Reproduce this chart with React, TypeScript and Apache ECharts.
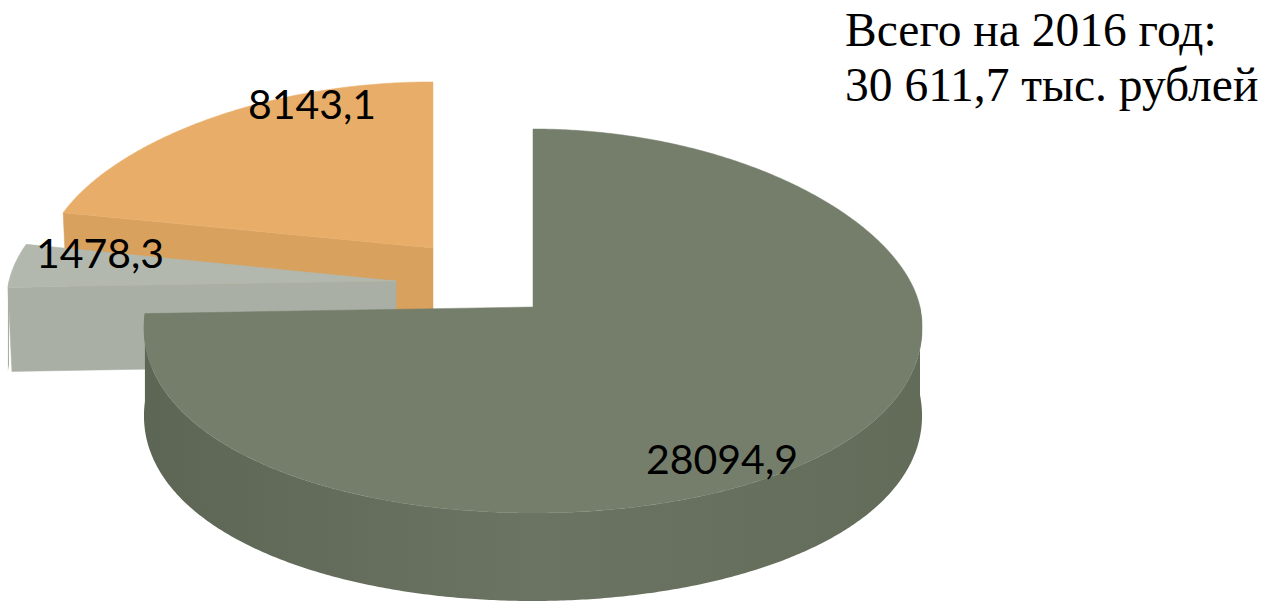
import React, { useEffect, useRef } from "react";
import * as echarts from "echarts";

// ---- data ----
const categories = ["Сегмент 1", "Сегмент 2", "Сегмент 3"];
const values = [28094.9, 1478.3, 8143.1];
const titleLines = ["Всего на 2016 год:", "30 611,7 тыс. рублей"];

// ---- styles (not data) ----
const sliceTop = ["#747E6B", "#B2B8AE", "#E8AE69"];
const sliceWall = ["#6B7462", "#A9AFA4", "#D9A15E"];
const sliceWallLeft = ["#5D6554", "#A4AA9F", "#D29A59"];
const sliceWallRight = ["#636B59", "#A4AA9F", "#D29A59"];
const sliceOffsets = [
  [0, 0],
  [-137, -26],
  [-100, -59],
];
const sliceRyScale = [1, 0.97, 0.933];
const sliceDepth = [88, 84, 88];
const labelOffsets = [
  [189, 151],
  [-296, -29],
  [-121, -145],
];
const sliceZ = [30, 20, 10];

const CX = 533;
const CY = 307;
const RX = 387;
const K = 40;
const RYB = 178;
const RYF = 206;

function fmt(v: number) {
  return v.toFixed(1).replace(".", ",");
}

export default function App() {
  const ref = useRef<HTMLDivElement>(null);
  useEffect(() => {
    document.body.style.margin = "0";
    if (!ref.current) return;
    const chart = echarts.init(ref.current, undefined, { renderer: "svg" });
    const total = values.reduce((a, b) => a + b, 0);

    const renderItem = (params: any, api: any) => {
      const i = params.dataIndex;
      const v = api.value(1);
      let start = 0;
      for (let k = 0; k < i; k++) start += values[k];
      const a0 = (start / total) * Math.PI * 2;
      const a1 = ((start + v) / total) * Math.PI * 2;
      const cx = CX + sliceOffsets[i][0];
      const cy = CY + sliceOffsets[i][1];
      const s = sliceRyScale[i];
      const D = sliceDepth[i];
      const pt = (a: number, dz: number) => {
        const c = Math.cos(a);
        const sn = Math.sin(a);
        const rx = RX - K * c;
        const ry = (c > 0 ? RYB : RYF) * s;
        return [cx + sn * rx, cy - c * ry + dz];
      };
      const arc = (b0: number, b1: number, dz: number) => {
        const pts: number[][] = [];
        const n = Math.max(2, Math.ceil(((b1 - b0) * 180) / Math.PI / 0.5));
        for (let j = 0; j <= n; j++) pts.push(pt(b0 + ((b1 - b0) * j) / n, dz));
        return pts;
      };
      const z = sliceZ[i];
      const children: any[] = [];
      const radial = (a: number) => {
        const p = pt(a, 0);
        children.push({
          type: "polygon",
          z2: z + 1,
          shape: { points: [[cx, cy], p, [p[0] + 4, p[1] + D], [cx, cy + D]] },
          style: { fill: sliceWall[i], stroke: sliceWall[i], lineWidth: 0.5 },
        });
      };
      if (Math.sin(a0) < -1e-6) radial(a0);
      if (Math.sin(a1) > 1e-6) radial(a1);
      // outer front wall
      const w0 = Math.max(a0, Math.PI / 2);
      const w1 = Math.min(a1, (Math.PI * 3) / 2);
      if (w1 > w0) {
        const topArc = arc(w0, w1, 0);
        const botArc = arc(w0, w1, D).reverse();
        children.push({
          type: "polygon",
          z2: z + 2,
          shape: { points: topArc.concat(botArc) },
          style: {
            fill: new echarts.graphic.LinearGradient(1, 0, 0, 0, [
              { offset: 0, color: sliceWallRight[i] },
              { offset: 0.5, color: sliceWall[i] },
              { offset: 1, color: sliceWallLeft[i] },
            ]),
          },
        });
      }
      // top face
      children.push({
        type: "polygon",
        z2: z + 3,
        shape: { points: [[cx, cy]].concat(arc(a0, a1, 0)) },
        style: { fill: sliceTop[i], stroke: sliceTop[i], lineWidth: 0.5 },
      });
      // label
      children.push({
        type: "text",
        z2: 100,
        x: cx + labelOffsets[i][0],
        y: cy + labelOffsets[i][1],
        style: {
          text: fmt(v),
          fill: "#000",
          fontSize: 41,
          fontFamily: "Lato",
          align: "center",
          verticalAlign: "middle",
        },
      });
      return { type: "group", children };
    };

    chart.setOption({
      animation: false,
      backgroundColor: "#fff",
      title: {
        text: titleLines.join("\n"),
        left: 845,
        top: 2,
        padding: 0,
        textStyle: {
          fontFamily: "Liberation Serif",
          fontSize: 47.5,
          fontWeight: "normal",
          lineHeight: 55,
          color: "#000",
        },
      },
      series: [
        {
          type: "custom",
          coordinateSystem: "none",
          renderItem,
          data: values.map((v, i) => ({ name: categories[i], value: [i, v] })),
        },
      ],
    });
    return () => chart.dispose();
  }, []);
  return <div ref={ref} style={{ width: 1268, height: 604 }} />;
}
